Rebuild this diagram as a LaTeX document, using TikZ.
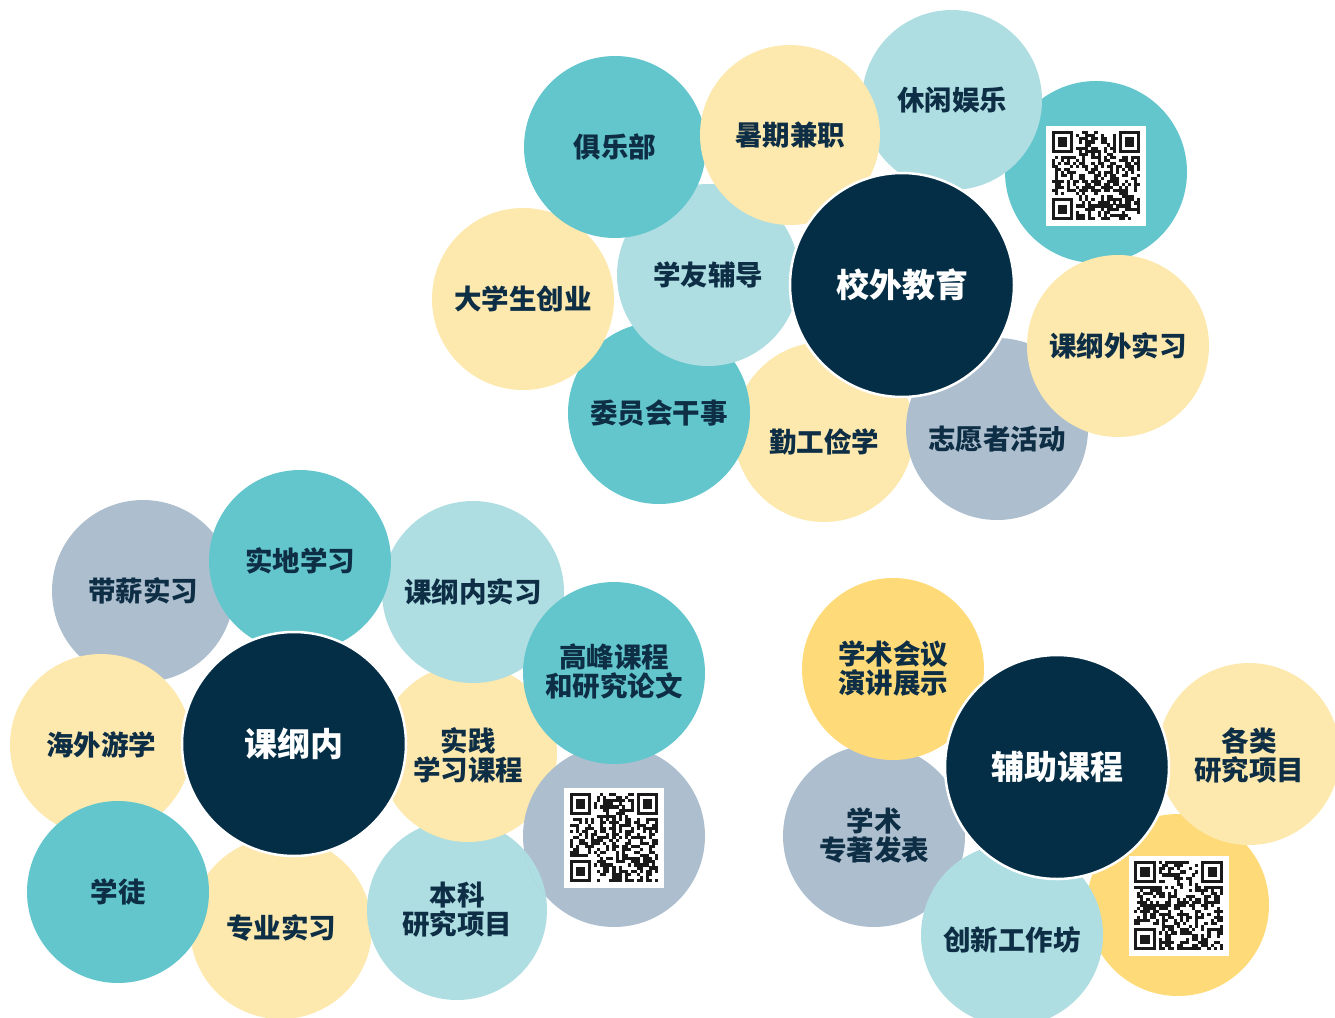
\documentclass[tikz,border=0pt]{standalone}
\usepackage{fontspec}
\newfontfamily\cjk{Noto Sans CJK SC}
\definecolor{teal1}{HTML}{63C6CC}
\definecolor{lblue}{HTML}{AEDEE2}
\definecolor{lyel}{HTML}{FDE8AE}
\definecolor{gold1}{HTML}{FEDA78}
\definecolor{gblue}{HTML}{ADBFCE}
\definecolor{navy}{HTML}{042E45}
\definecolor{tcol}{HTML}{0D2E45}
\definecolor{qrblack}{HTML}{1A1A1A}
\tikzset{
  bub/.style={circle, inner sep=0pt, minimum size=#1, align=center,
    font=\cjk\bfseries\fontsize{27.5}{29}\selectfont, text=tcol},
  bub/.default=182pt,
  lbl/.style={inner sep=0pt, align=center,
    font=\cjk\bfseries\fontsize{27.5}{29}\selectfont, text=tcol},
  hub/.style={circle, inner sep=0pt, minimum size=224pt, align=center,
    fill=navy, draw=white, line width=2.5pt,
    font=\cjk\bfseries\fontsize{33}{36}\selectfont, text=white},
}
\newcommand\qrpat[3]{%
  \begin{scope}[shift={(#1,#2)}]
    \fill[white] (-50,-50) rectangle (50,50);
    \pgfmathsetseed{#3}
    \foreach \i in {0,...,28}{\foreach \j in {0,...,28}{%
      \pgfmathrandominteger{\qrbit}{0}{1}%
      \ifnum\qrbit=1 \fill[qrblack] (-44.25+\i*3.05,-44.25+\j*3.05) rectangle ++(3.1,3.1);\fi
    }}
    \foreach \ox/\oy in {-44.25/-44.25, 22.9/-44.25, -44.25/22.9}{%
      \fill[white] (\ox-3.05,\oy-3.05) rectangle ++(27.45,27.45);
      \fill[qrblack] (\ox,\oy) rectangle ++(21.35,21.35);
      \fill[white] (\ox+3.05,\oy+3.05) rectangle ++(15.25,15.25);
      \fill[qrblack] (\ox+6.1,\oy+6.1) rectangle ++(9.15,9.15);
    }
  \end{scope}}
\begin{document}
\begin{tikzpicture}[x=1pt,y=-1pt]
\useasboundingbox (0,0) rectangle (1335,1017);
% ---------- top cluster ----------
\node[bub, fill=teal1] (qrA) at (1096,172) {};
\node[bub=180pt, fill=lblue] (xiuxian) at (952,100) {休闲娱乐};
\node[bub=180pt, fill=lyel, label={[lbl, yshift=-10pt, name=qingongt]center:勤工俭学}] (qingong) at (824,432) {};
\node[bub, fill=gblue, label={[lbl, yshift=-10pt, name=zhiyuant]center:志愿者活动}] (zhiyuan) at (997,429) {};
\node[bub, fill=lyel] (kgwai) at (1118,346) {课纲外实习};
\node[bub, fill=teal1] (weiyuan) at (659,413) {委员会干事};
\node[bub, fill=lblue] (xueyou) at (708,275) {学友辅导};
\node[bub, fill=lyel] (chuangye) at (523,299) {大学生创业};
\node[bub, fill=teal1] (julebu) at (615,147) {俱乐部};
\node[bub=180pt, fill=lyel] (shuqi) at (790,135) {暑期兼职};
\qrpat{1096}{175.5}{11}
\node[hub] (xiaowai) at (902,285) {校外教育};
% ---------- bottom-left cluster ----------
\node[bub, fill=gblue] (daixin) at (143,591) {带薪实习};
\node[bub, fill=lyel] (zhuanye) at (281,928) {专业实习};
\node[bub=180pt, fill=lblue] (benke) at (457,910) {本科\\研究项目};
\node[bub=178pt, fill=lyel, label={[lbl, yshift=-2pt, name=shijiant]center:实践\\学习课程}] (shijian) at (468,753) {};
\node[bub, fill=lblue] (kgneisx) at (473,592) {课纲内实习};
\node[bub, fill=teal1] (shidi) at (300,561) {实地学习};
\node[bub, fill=lyel] (haiwai) at (101,745) {海外游学};
\node[bub, fill=teal1] (xuetu) at (118,892) {学徒};
\node[bub, fill=gblue] (qrB) at (614,836) {};
\begin{scope}
  \clip (614,836) circle (91);
  \fill[lblue] (457,910) circle (90);
\end{scope}
\qrpat{614}{837.5}{23}
\node[bub, fill=teal1, label={[lbl, yshift=1pt, name=gaofengt]center:高峰课程\\和研究论文}] (gaofeng) at (614,673) {};
\node[hub] (kgnei) at (294,744) {课纲内};
% ---------- bottom-right cluster ----------
\node[bub, fill=gblue] (zhuanzhu) at (874,836) {学术\\专著发表};
\node[bub, fill=gold1] (huiyi) at (893,669) {学术会议\\演讲展示};
\node[bub, fill=gold1] (qrC) at (1178,905) {};
\node[bub, fill=lyel, label={[lbl, yshift=-1pt, name=geleit]center:各类\\研究项目}] (gelei) at (1249,754) {};
\node[bub, fill=lblue, label={[lbl, yshift=-5pt, name=chuangxint]center:创新工作坊}] (chuangxin) at (1012,935) {};
\qrpat{1178.5}{905.5}{37}
\node[hub] (fuzhu) at (1057,767) {辅助课程};
\end{tikzpicture}
\end{document}
